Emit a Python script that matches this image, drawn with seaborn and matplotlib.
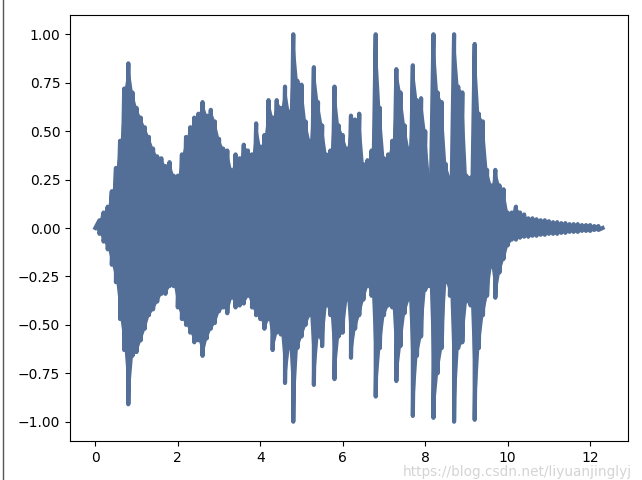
import numpy as np
import pandas as pd
import seaborn as sns
import matplotlib.pyplot as plt
from matplotlib.lines import Line2D

# Envelope of the waveform, every 0.1 s
seconds = [0.0, 0.1, 0.2, 0.3, 0.4, 0.5, 0.6, 0.7, 0.8, 0.9,
           1.0, 1.1, 1.2, 1.3, 1.4, 1.5, 1.6, 1.7, 1.8, 1.9,
           2.0, 2.1, 2.2, 2.3, 2.4, 2.5, 2.6, 2.7, 2.8, 2.9,
           3.0, 3.1, 3.2, 3.3, 3.4, 3.5, 3.6, 3.7, 3.8, 3.9,
           4.0, 4.1, 4.2, 4.3, 4.4, 4.5, 4.6, 4.7, 4.8, 4.9,
           5.0, 5.1, 5.2, 5.3, 5.4, 5.5, 5.6, 5.7, 5.8, 5.9,
           6.0, 6.1, 6.2, 6.3, 6.4, 6.5, 6.6, 6.7, 6.8, 6.9,
           7.0, 7.1, 7.2, 7.3, 7.4, 7.5, 7.6, 7.7, 7.8, 7.9,
           8.0, 8.1, 8.2, 8.3, 8.4, 8.5, 8.6, 8.7, 8.8, 8.9,
           9.0, 9.1, 9.2, 9.3, 9.4, 9.5, 9.6, 9.7, 9.8, 9.9,
           10.0, 10.1, 10.2, 10.3, 10.4, 10.5, 10.6, 10.7, 10.8, 10.9,
           11.0, 11.1, 11.2, 11.3, 11.4, 11.5, 11.6, 11.7, 11.8, 11.9,
           12.0, 12.1, 12.2, 12.3]

upper = [0.0, 0.04, 0.08, 0.11, 0.19, 0.31, 0.45, 0.72, 0.85, 0.70,
         0.62, 0.57, 0.52, 0.47, 0.41, 0.37, 0.36, 0.32, 0.34, 0.27,
         0.27, 0.38, 0.47, 0.52, 0.57, 0.59, 0.65, 0.58, 0.61, 0.55,
         0.46, 0.41, 0.40, 0.30, 0.38, 0.36, 0.43, 0.40, 0.38, 0.54,
         0.42, 0.48, 0.66, 0.57, 0.66, 0.62, 0.73, 0.60, 1.00, 0.76,
         0.74, 0.55, 0.45, 0.83, 0.65, 0.53, 0.38, 0.40, 0.73, 0.53,
         0.48, 0.41, 0.58, 0.56, 0.59, 0.33, 0.35, 0.40, 1.00, 0.62,
         0.36, 0.38, 0.45, 0.82, 0.70, 0.53, 0.41, 0.84, 0.66, 0.67,
         0.50, 0.26, 1.00, 0.70, 0.65, 0.33, 0.26, 1.00, 0.73, 0.70,
         0.27, 0.26, 0.95, 0.59, 0.55, 0.30, 0.22, 0.30, 0.22, 0.20,
         0.08, 0.08, 0.11, 0.08, 0.07, 0.05, 0.05, 0.045, 0.04, 0.04,
         0.035, 0.03, 0.03, 0.025, 0.025, 0.02, 0.02, 0.02, 0.015, 0.015,
         0.015, 0.01, 0.01, 0.0]

lower = [0.0, -0.03, -0.07, -0.11, -0.19, -0.28, -0.47, -0.63, -0.91, -0.66,
         -0.64, -0.58, -0.52, -0.45, -0.42, -0.38, -0.34, -0.34, -0.30, -0.30,
         -0.41, -0.47, -0.50, -0.54, -0.59, -0.58, -0.66, -0.57, -0.52, -0.49,
         -0.43, -0.41, -0.44, -0.36, -0.41, -0.40, -0.39, -0.35, -0.41, -0.45,
         -0.47, -0.52, -0.47, -0.63, -0.54, -0.55, -0.80, -0.62, -1.00, -0.62,
         -0.56, -0.50, -0.45, -0.81, -0.56, -0.61, -0.40, -0.45, -0.78, -0.56,
         -0.54, -0.37, -0.67, -0.52, -0.45, -0.37, -0.30, -0.35, -0.87, -0.62,
         -0.45, -0.40, -0.41, -0.79, -0.61, -0.44, -0.37, -0.97, -0.66, -0.56,
         -0.32, -0.30, -0.98, -0.75, -0.62, -0.28, -0.35, -1.00, -0.62, -0.59,
         -0.38, -0.40, -0.99, -0.62, -0.45, -0.35, -0.20, -0.36, -0.23, -0.16,
         -0.09, -0.06, -0.06, -0.05, -0.045, -0.045, -0.04, -0.04, -0.035, -0.035,
         -0.03, -0.03, -0.03, -0.025, -0.025, -0.02, -0.02, -0.02, -0.015, -0.015,
         -0.015, -0.01, -0.01, 0.0]

WAVE_COLOR = "#536f97"

# interleave the peaks so the line swings up and down like the samples do
env = pd.DataFrame({"time": seconds, "upper": upper, "lower": lower})
wave = pd.DataFrame({
    "time": np.repeat(env["time"].values, 2),
    "amp": np.column_stack([env["upper"].values, env["lower"].values]).ravel(),
})

fig, ax = plt.subplots(figsize=(6.42, 4.8), dpi=100)
fig.subplots_adjust(left=0.109, right=0.978, top=0.969, bottom=0.081)

# solid body between the peaks, then the swinging line on top
ax.fill_between(env["time"], env["lower"], env["upper"], color=WAVE_COLOR, linewidth=0)
sns.lineplot(data=wave, x="time", y="amp", estimator=None, sort=False,
             color=WAVE_COLOR, linewidth=3, ax=ax)
ax.set_xlabel("")
ax.set_ylabel("")

# watermark (sits just under the tick labels) and the screenshot edge
fig.text(0.985, 0.017, "https://blog.csdn.net/liyuanjinglyj", ha="right", va="center",
         fontsize=9.8, color="#d4d4d4")
fig.add_artist(Line2D([2.5 / 642, 2.5 / 642], [0, 1], color="#555555", linewidth=1))

plt.savefig("out.png")
